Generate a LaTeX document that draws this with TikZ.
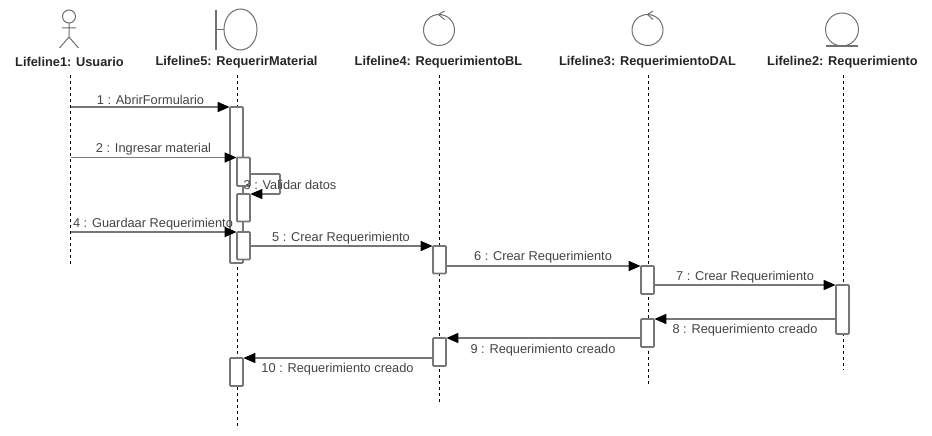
\documentclass[tikz,border=0pt]{standalone}
\usepackage{fontspec}
\setmainfont{Liberation Sans}
\usetikzlibrary{arrows.meta}
\definecolor{linegray}{HTML}{777777}
\definecolor{icongray}{HTML}{707070}
\definecolor{textgray}{HTML}{444444}
\tikzset{
  lifeline/.style={draw=black,line width=1pt,dash pattern=on 3pt off 3pt},
  act/.style={draw=linegray,fill=white,line width=1.7pt,rounded corners=0.8pt,minimum width=13pt,inner sep=0pt,outer sep=0pt,anchor=north},
  msg/.style={draw=linegray,line width=1.7pt,-{Triangle[length=12pt,width=10pt,color=black]},shorten >=0.4pt},
  msglabel/.style={font=\fontsize{12.8}{15}\selectfont,text=textgray,inner sep=0pt},
  headlabel/.style={font=\fontsize{12.8}{15}\selectfont\bfseries,text=black!85,inner sep=0pt},
  icon/.style={draw=icongray,line width=1pt},
  iconthick/.style={draw=icongray,line width=1.7pt},
}
\begin{document}
\begin{tikzpicture}[x=1pt,y=-1pt]
\useasboundingbox (0,0) rectangle (932,436);
\fill[white] (0,0) rectangle (932,436);

% lifeline ends
\coordinate (u1) at (70.5,75);   \coordinate (d1) at (70.5,264);
\coordinate (u5) at (237,75);    \coordinate (d5) at (237,428);
\coordinate (u4) at (439.5,75);  \coordinate (d4) at (439.5,402);
\coordinate (u3) at (648,75);    \coordinate (d3) at (648,384);
\coordinate (u2) at (843,75);    \coordinate (d2) at (843,370);
\draw[lifeline] (u1) -- (d1);
\draw[lifeline] (u5) -- (d5);
\draw[lifeline] (u4) -- (d4);
\draw[lifeline] (u3) -- (d3);
\draw[lifeline] (u2) -- (d2);

% head labels
\node[headlabel] (h1) at (69.5,62) {Lifeline1: Usuario};
\node[headlabel] (h5) at (236.5,62) {Lifeline5: RequerirMaterial};
\node[headlabel] (h4) at (438.5,62) {Lifeline4: RequerimientoBL};
\node[headlabel] (h3) at (647.5,62) {Lifeline3: RequerimientoDAL};
\node[headlabel] (h2) at (842.5,62) {Lifeline2: Requerimiento};

% actor
\draw[icon] (69,16.5) circle (6.5);
\draw[icon] (69,23) -- (69,37) (62,28) -- (76,28) (59.5,48) -- (69,37) -- (78.5,48);
% boundary
\draw[iconthick] (216,10) -- (216,50);
\draw[icon] (216,30) -- (224,30);
\draw[icon] (240.5,29.5) ellipse (16.5 and 20.5);
% controls
\draw[icon] (439,30) circle (15.5);
\draw[icon] (444.5,11) -- (438.5,14.5) -- (444.5,19.5);
\draw[icon] (647.5,30) circle (15.5);
\draw[icon] (653,11) -- (647.5,14.5) -- (653,19.5);
% entity
\draw[icon] (842,29.5) circle (16.5);
\draw[iconthick] (826,46) -- (858,46);

% activations
\node[act,minimum height=156pt] (a1) at (236.5,107) {};
\node[act,minimum height=28.5pt] (a2) at (243.5,157.5) {};
\node[act,minimum height=27.5pt] (a3) at (243.5,194) {};
\node[act,minimum height=27.5pt] (a4) at (243.5,232) {};
\node[act,minimum height=27.5pt] (b1) at (439.5,246) {};
\node[act,minimum height=28pt] (c1) at (647.5,266) {};
\node[act,minimum height=49pt] (e1) at (842.5,285) {};
\node[act,minimum height=28pt] (c2) at (647.5,319) {};
\node[act,minimum height=28pt] (b2) at (439.5,338) {};
\node[act,minimum height=28pt] (a5) at (236.5,358) {};

% self loop
\coordinate (sa) at (250,174);
\coordinate (sb) at (280,174);
\coordinate (sc) at (280,194);
\coordinate (sd) at (250,194);

% messages
\draw[msg] (u1 |- a1.north west) -- (a1.north west);
\draw[msg] (u1 |- a2.north west) -- (a2.north west);
\draw[msg,rounded corners=0.8pt] (sa) -- (sb) -- (sc) -- (sd);
\draw[msg] (u1 |- a4.north west) -- (a4.north west);
\draw[msg] (a4.east |- b1.north west) -- (b1.north west);
\draw[msg] (b1.east |- c1.north west) -- (c1.north west);
\draw[msg] (c1.east |- e1.north west) -- (e1.north west);
\draw[msg] (e1.west |- c2.north east) -- (c2.north east);
\draw[msg] (c2.west |- b2.north east) -- (b2.north east);
\draw[msg] (b2.west |- a5.north east) -- (a5.north east);

% message labels
\node[msglabel] (m1) at (150.5,99.5) {1 : AbrirFormulario};
\node[msglabel] (m2) at (153.5,149.5) {2 : Ingresar material};
\node[msglabel] (m3) at (290,184.5) {3 : Validar datos};
\node[msglabel] (m4) at (153,224) {4 : Guardaar Requerimiento};
\node[msglabel] (m5) at (341,238) {5 : Crear Requerimiento};
\node[msglabel] (m6) at (543,257.5) {6 : Crear Requerimiento};
\node[msglabel] (m7) at (745,277) {7 : Crear Requerimiento};
\node[msglabel] (m8) at (745,330.5) {8 : Requerimiento creado};
\node[msglabel] (m9) at (543,350) {9 : Requerimiento creado};
\node[msglabel] (m10) at (337.5,369.5) {10 : Requerimiento creado};
\end{tikzpicture}
\end{document}
